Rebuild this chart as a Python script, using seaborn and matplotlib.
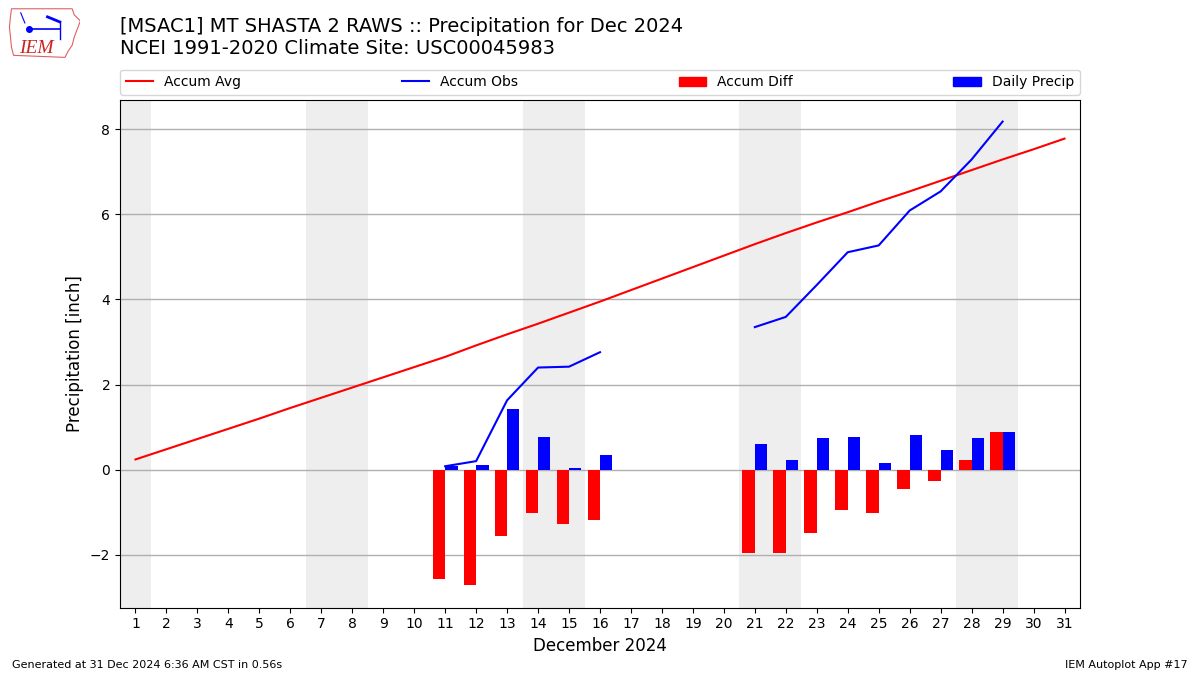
import numpy as np
import pandas as pd
import matplotlib
matplotlib.use("Agg")
import matplotlib.pyplot as plt
from matplotlib.lines import Line2D
from matplotlib.patches import Patch, Polygon
import seaborn as sns

# ---------------- data ----------------
days = list(range(1, 32))
accum_avg = [0.24, 0.48, 0.72, 0.96, 1.20, 1.45, 1.69, 1.93, 2.17, 2.41,
             2.65, 2.92, 3.18, 3.43, 3.69, 3.95, 4.22, 4.49, 4.76, 5.03,
             5.30, 5.56, 5.81, 6.05, 6.30, 6.54, 6.79, 7.04, 7.29, 7.53, 7.78]
accum_obs = [None] * 10 + [0.08, 0.20, 1.63, 2.40, 2.42, 2.76] + [None] * 4 + \
            [3.35, 3.59, 4.34, 5.11, 5.27, 6.09, 6.54, 7.29, 8.18] + [None] * 2
accum_diff = [None] * 10 + [-2.57, -2.72, -1.56, -1.02, -1.28, -1.19] + [None] * 4 + \
             [-1.95, -1.97, -1.48, -0.94, -1.03, -0.45, -0.26, 0.23, 0.89] + [None] * 2
daily_precip = [None] * 10 + [0.08, 0.12, 1.43, 0.77, 0.03, 0.35] + [None] * 4 + \
               [0.61, 0.23, 0.75, 0.77, 0.16, 0.82, 0.45, 0.75, 0.89] + [None] * 2
xticklabels = [str(d) for d in days]
yticks = [-2, 0, 2, 4, 6, 8]

title = "[MSAC1] MT SHASTA 2 RAWS :: Precipitation for Dec 2024\nNCEI 1991-2020 Climate Site: USC00045983"

# ---------------- frames ----------------
df = pd.DataFrame({"day": days, "avg": accum_avg,
                   "obs": pd.array(accum_obs, dtype="Float64"),
                   "diff": pd.array(accum_diff, dtype="Float64"),
                   "daily": pd.array(daily_precip, dtype="Float64")})
df = df.astype({"obs": float, "diff": float, "daily": float})
df["seg"] = df["obs"].isna().cumsum()
obs_df = df.dropna(subset=["obs"])

bars = pd.concat([
    pd.DataFrame({"day": df["day"], "value": df["diff"], "kind": "Accum Diff"}),
    pd.DataFrame({"day": df["day"], "value": df["daily"], "kind": "Daily Precip"}),
]).dropna()

# ---------------- figure ----------------
fig = plt.figure(figsize=(12, 6.75), dpi=100)
ax = fig.add_axes([0.1, 0.1, 0.8, 0.752])

# weekend shading
dates = pd.date_range("2024-12-01", periods=31, freq="D")
for d, dt in zip(days, dates):
    if dt.dayofweek >= 5:
        ax.axvspan(d - 0.5, d + 0.5, color="#eeeeee", zorder=0, lw=0)

sns.barplot(data=bars, x="day", y="value", hue="kind",
            hue_order=["Accum Diff", "Daily Precip"],
            palette={"Accum Diff": "red", "Daily Precip": "blue"},
            native_scale=True, width=0.8, dodge=True, errorbar=None,
            saturation=1, linewidth=0, legend=False, ax=ax, zorder=2)

sns.lineplot(data=df, x="day", y="avg", color="red", lw=1.5, ax=ax, zorder=3)
sns.lineplot(data=obs_df, x="day", y="obs", units="seg", estimator=None,
             color="blue", lw=1.5, ax=ax, zorder=3)

ax.set_axisbelow(True)
ax.yaxis.grid(True, color="#b0b0b0", lw=1)
ax.xaxis.grid(False)
ax.set_xlim(0.5, 31.5)
ax.set_ylim(-3.24, 8.69)
ax.set_xticks(days)
ax.set_xticklabels(xticklabels)
ax.set_yticks(yticks)
ax.tick_params(labelsize=10)
ax.set_xlabel("December 2024", fontsize=12)
ax.set_ylabel("Precipitation [inch]", fontsize=12)

handles = [Line2D([], [], color="red", lw=1.5),
           Line2D([], [], color="blue", lw=1.5),
           Patch(color="red"), Patch(color="blue")]
labels = ["Accum Avg", "Accum Obs", "Accum Diff", "Daily Precip"]
ax.legend(handles, labels, bbox_to_anchor=(0.0, 1.01, 1.0, 0.05),
          loc="lower left", ncol=4, mode="expand", borderaxespad=0,
          fontsize=10)

fig.text(0.1, 0.975, title, fontsize=14, va="top", ha="left")
fig.text(0.01, 0.01, "Generated at 31 Dec 2024 6:36 AM CST in 0.56s", fontsize=8)
fig.text(0.99, 0.01, "IEM Autoplot App #17", fontsize=8, ha="right")

# logo
lax = fig.add_axes([0.007, 0.912, 0.06, 0.078])
lax.set_xlim(0, 70)
lax.set_ylim(0, 52)
lax.axis("off")
outline = [(3, 50), (62, 50), (64, 44), (70, 38), (67, 30), (64, 22), (62, 14),
           (58, 8), (55, 2), (5, 4), (3, 12), (2, 22), (1, 32), (2, 42)]
lax.add_patch(Polygon(outline, closed=True, fill=False, ec="#e06060", lw=0.8))
lax.plot([20, 50], [30, 30], color="blue", lw=1.2)
lax.plot([20], [30], "o", color="blue", ms=4)
lax.plot([38, 50], [42, 37], color="blue", lw=2)
lax.plot([50, 50], [37, 20], color="blue", lw=1)
lax.plot([12, 16], [46, 36], color="blue", lw=0.8)
lax.text(10, 6, "IEM", color="#cc2222", fontsize=14, family="Liberation Serif",
         style="italic")

fig.savefig("out.png", dpi=100)
